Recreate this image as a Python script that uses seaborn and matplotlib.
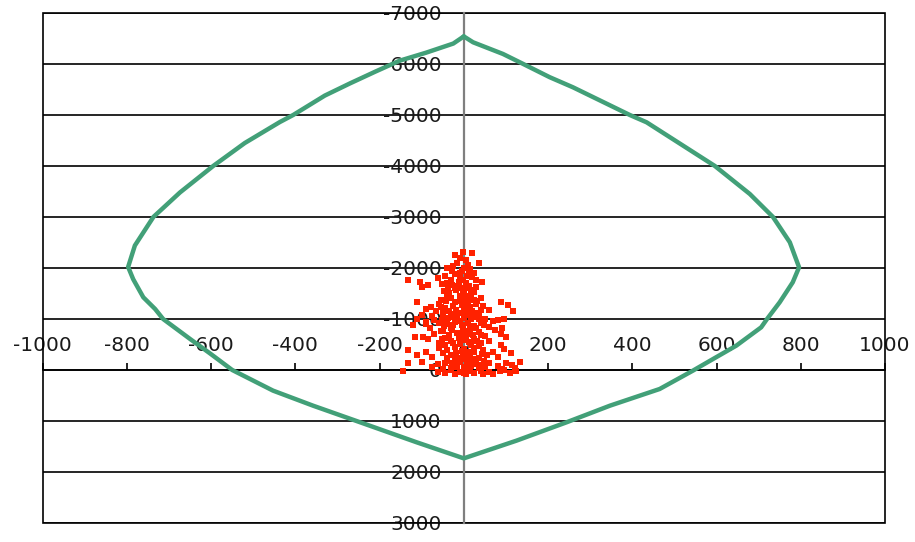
import matplotlib
matplotlib.use("Agg")
import matplotlib.pyplot as plt
import seaborn as sns
import pandas as pd
from matplotlib.patches import Rectangle
from matplotlib.ticker import FuncFormatter

# ---- interaction-envelope curve ----
curve_x = [0, -25, -90, -152, -210, -270, -330, -405, -437, -520, -595, -674, -737,
           -781, -797, -785, -761, -733, -714, -650, -603, -550, -453, -358, -255,
           -112, 0, 125, 244, 347, 465, 544, 592, 647, 706, 720, 750, 781, 796, 774,
           734, 679, 596, 434, 394, 259, 204, 141, 93, 22, 0]
curve_y = [-6540, -6400, -6220, -6065, -5850, -5620, -5380, -5000, -4860, -4450, -4000,
           -3480, -3000, -2440, -2020, -1780, -1425, -1196, -1000, -608, -327, 0, 405,
           700, 1000, 1418, 1733, 1386, 1026, 700, 373, 13, -216, -477, -836, -1000,
           -1327, -1719, -2013, -2504, -3000, -3451, -4000, -4856, -5000, -5543, -5740,
           -6000, -6196, -6425, -6540]

# ---- load points ----
scatter_x = [
    -21, -2, 20, 36, -41, -10, 5, -15, 10, 0, -25, 15, -5, 25, -20, 8, -8, 20,
    -132, -104, -85, -61, -100, -29, 30, 43, -12, 5, 12, -5, 18, -18, 0,
    18, 40, -41, -53, -112, -77, 89, 105, 117, -30, -10, 5, 25, -20, 10, -5, 30,
    -60, -90, -45, -25, 15, 0, 45, 60, -65, -35, 20, -10, 35,
    -110, -90, -70,
    -100, -75, -50, -30, -15, 0, 12, 28, 50, 70, 81, 95, -90, -60, -40, -20, -5,
    10, 25, 40, 60, -120, -80, -30, 15, 90,
    -116, -97, -70, -50, -35, -15, 0, 10, 22, 35, 50, 74, 89, 100, -85, -45, 5,
    25, 60, -10, 40, -60,
    -132, -89, -60, -40, -20, -5, 0, 10, 25, 45, 70, 113, 95, 89, -110, -75,
    -30, 15, 35, 55, 80, -15, 5,
    -132, -100, -61, -40, -20, -8, 0, 8, 20, 40, 60, 80, 100, 133, 121, -75,
    -30, 15, 30, 50, 90, 115, -50,
    -145, -61, -30, -10, 0, 10, 25, 40, 60, 85, 110, 125, -45, 5, 70, -20, 95, 45,
    -45, -30, -3, 28, -38, -22, 8, 25, -48, -35, -2, 12, -42, -8, 18, 32,
    -55, -18, 8, 40, -50, -28, 2, 22, -52, -38, -8, 18, 35, -48, -25, -2, 30, 48,
    -55, -28, -5, 15, 40, -52, -30, -12, 12, 32, -45, -25, -8, 18, 35,
    -50, -18, 5, 25, 42, -40, -22, -2, 28, 48, -45, -15, 18, 35, -28,
    -52, -40, -15, -8, 12, -28]
scatter_y = [
    -2255, -2307, -2288, -2092, -1994, -2200, -2150, -2100, -2050, -2000, -2040,
    -1980, -1950, -1900, -1880, -1850, -1800, -1820,
    -1765, -1732, -1667, -1798, -1634, -1667, -1634, -1732, -1720, -1700, -1650,
    -1600, -1570, -1560, -1530,
    -1470, -1405, -1470, -1373, -1340, -1242, -1340, -1275, -1157, -1420, -1450,
    -1400, -1380, -1330, -1320, -1280, -1300,
    -1300, -1200, -1220, -1250, -1240, -1200, -1250, -1180, -1150, -1160, -1150,
    -1120, -1120,
    -1000, -900, -980,
    -1080, -1050, -1090, -1030, -1060, -1010, -1080, -1040, -1000, -960, -980,
    -1000, -950, -930, -900, -950, -880,
    -920, -870, -930, -850, -880, -830, -820, -800, -820,
    -653, -653, -700, -760, -680, -720, -650, -770, -690, -740, -660, -784, -700,
    -640, -600, -620, -580, -600, -560, -540, -520, -520,
    -392, -359, -440, -400, -460, -380, -420, -350, -440, -400, -360, -327, -420,
    -490, -300, -260, -300, -280, -240, -300, -260, -230, -220,
    -131, -160, -120, -180, -100, -150, -60, -120, -170, -90, -140, -80, -130,
    -163, -40, -60, -40, -30, -110, -50, -20, -100, -20,
    20, 33, 10, 40, 60, 20, 50, 15, 45, 30, 60, 20, 50, 80, 70, 70, 10, 80,
    -1850, -1760, -1760, -1760, -1620, -1600, -1610, -1520, -1540, -1500, -1480,
    -1450, -1360, -1350, -1420, -1360,
    -1240, -1180, -1160, -1180, -1120, -1100, -1110, -1120, -980, -1010, -960,
    -990, -1000, -860, -880, -830, -820, -880,
    -760, -780, -720, -700, -690, -600, -560, -620, -540, -560, -480, -520, -500,
    -480, -470,
    -340, -330, -300, -360, -320, -240, -200, -260, -210, -180, -130, -50, -80,
    -30, -140,
    -1680, -1700, -1650, -1900, -1920, -1950]

x_ticks = [-1000, -800, -600, -400, -200, 0, 200, 400, 600, 800, 1000]
y_ticks = [-7000, -6000, -5000, -4000, -3000, -2000, -1000, 0, 1000, 2000, 3000]

sns.set_style("white")
plt.rcParams["font.family"] = ["DejaVu Sans"]
plt.rcParams["axes.unicode_minus"] = False

fig = plt.figure(figsize=(9.15, 5.42), dpi=100)
ax = fig.add_axes([0.0466, 0.0351, 0.9206, 0.941])

curve_df = pd.DataFrame({"x": curve_x, "y": curve_y})
pts_df = pd.DataFrame({"x": scatter_x, "y": scatter_y})

sns.lineplot(data=curve_df, x="x", y="y", sort=False, estimator=None,
             color="#42a078", linewidth=3.2, ax=ax, zorder=4)
sns.scatterplot(data=pts_df, x="x", y="y", marker="s", s=20, color="#ff2200",
                linewidth=0, ax=ax, zorder=3)

ax.set_xlim(x_ticks[0], x_ticks[-1])
ax.set_ylim(y_ticks[-1], y_ticks[0])
ax.set_xticks(x_ticks)
ax.set_yticks(y_ticks)
fmt = FuncFormatter(lambda v, p: f"{int(round(v))}")
ax.xaxis.set_major_formatter(fmt)
ax.yaxis.set_major_formatter(fmt)
ax.set_xlabel("")
ax.set_ylabel("")

ax.yaxis.grid(True, color="black", linewidth=1.2)
ax.xaxis.grid(False)
ax.set_axisbelow(True)

# axes crossing at the origin
ax.spines["left"].set_position(("data", 0))
ax.spines["left"].set_color("#7f7f7f")
ax.spines["left"].set_linewidth(1.6)
ax.spines["top"].set_position(("data", 0))
ax.spines["top"].set_color("black")
ax.spines["top"].set_linewidth(1.2)
ax.spines["right"].set_visible(False)
ax.spines["bottom"].set_visible(False)

ax.xaxis.set_ticks_position("top")
ax.tick_params(axis="x", direction="out", length=5, width=1.2, color="black",
               pad=6, labelsize=14.5, labelcolor="#1a1a1a")
ax.tick_params(axis="y", length=0, pad=16, labelsize=14.5, labelcolor="#1a1a1a")

# plot-area border
ax.add_patch(Rectangle((0, 0), 1, 1, transform=ax.transAxes, fill=False,
                       edgecolor="black", linewidth=1.2, clip_on=False, zorder=1))

fig.savefig("out.png", dpi=100, facecolor="white")
